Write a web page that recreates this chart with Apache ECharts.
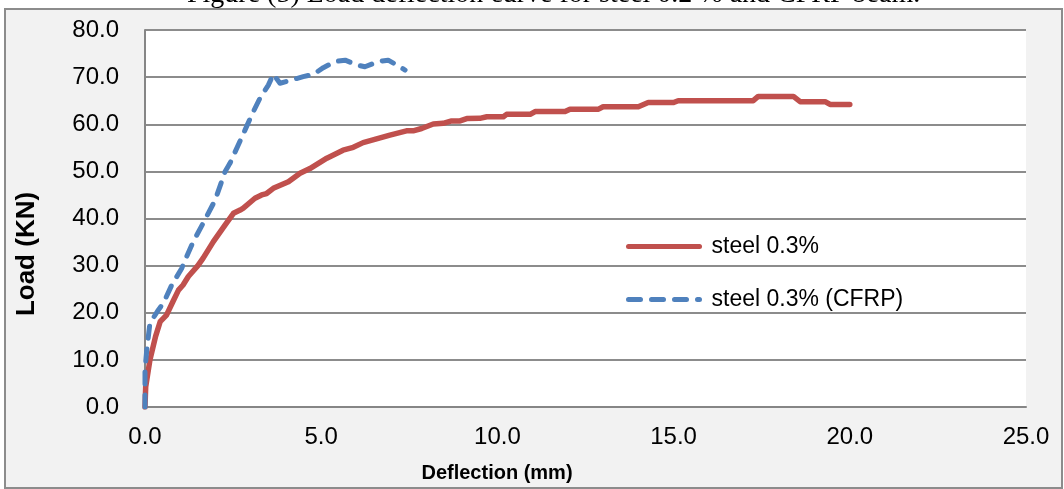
<!DOCTYPE html>
<html>
<head>
<meta charset="utf-8">
<script src="https://cdn.jsdelivr.net/npm/echarts@6/dist/echarts.min.js"></script>
<style>
  html, body { margin: 0; padding: 0; background: #ffffff; }
  #frame { position: absolute; left: 4px; top: 8px; width: 1055px; height: 477px;
           background: #f2f2f2; border: 2px solid #8c8c8c; }
  #chart { position: absolute; left: 0; top: 0; width: 1064px; height: 489px; }
</style>
</head>
<body>
<div id="frame"></div>
<div id="chart"></div>
<script>
// ---- data ----
const titleText = 'Figure (5) Load deflection curve for steel 0.2 % and CFRP beam.';
const seriesNames = ['steel 0.3%', 'steel 0.3% (CFRP)'];
const xTicks = [0, 5, 10, 15, 20, 25];
const yTicks = [0, 10, 20, 30, 40, 50, 60, 70, 80];

const steelDeflection = [0, 0.02, 0.14, 0.3, 0.43, 0.61, 0.8, 0.95, 1.08, 1.23, 1.5, 1.65, 1.94, 2.27, 2.51, 2.7, 2.79, 3.12, 3.31, 3.45, 3.64, 4.07, 4.4, 4.68, 5.16, 5.62, 5.91, 6.19, 6.57, 6.95, 7.42, 7.61, 7.85, 8.18, 8.46, 8.7, 8.94, 9.13, 9.5, 9.7, 10.17, 10.26, 10.93, 11.07, 11.92, 12.06, 12.87, 13.0, 14.0, 14.28, 15.0, 15.13, 17.26, 17.4, 18.4, 18.59, 19.3, 19.44, 20.0];
const steelLoad = [0, 4.3, 10, 15, 18.1, 19.5, 22.5, 24.8, 25.9, 27.7, 30, 31.6, 35.1, 38.6, 41.1, 41.8, 42.2, 44.3, 45.0, 45.3, 46.4, 47.8, 49.6, 50.6, 52.8, 54.5, 55.1, 56.1, 56.9, 57.7, 58.6, 58.6, 59.1, 60.05, 60.2, 60.7, 60.7, 61.2, 61.25, 61.6, 61.6, 62.1, 62.1, 62.7, 62.7, 63.2, 63.2, 63.7, 63.7, 64.6, 64.6, 65.0, 65.0, 65.9, 65.9, 64.8, 64.8, 64.2, 64.2];

const cfrpDeflection = [0, 0.0, 0.05, 0.14, 0.38, 0.52, 0.76, 0.85, 1.04, 1.14, 1.37, 1.65, 1.99, 2.27, 2.41, 2.84, 3.03, 3.26, 3.5, 3.64, 3.83, 4.16, 4.49, 4.78, 5.06, 5.39, 5.68, 6.0, 6.24, 6.62, 6.9, 7.14, 7.38];
const cfrpLoad = [0, 7.85, 12.1, 17.8, 20.6, 22.0, 25.9, 27.0, 29.4, 31.2, 35.1, 39.0, 43.9, 49.9, 51.7, 58.8, 62.0, 65.5, 68.3, 70.6, 68.7, 69.4, 70.1, 70.6, 72.0, 73.3, 73.6, 72.6, 72.2, 73.3, 73.6, 72.6, 71.5];

const zip = (xs, ys) => xs.map((x, i) => [x, ys[i]]);

const chart = echarts.init(document.getElementById('chart'), null, { renderer: 'canvas' });
const FONT = 'Liberation Sans, Arial, sans-serif';
const axisFont = { fontFamily: FONT, fontSize: 24, color: '#000' };

chart.setOption({
  backgroundColor: 'transparent',
  animation: false,
  graphic: [{
    type: 'text', left: 187, top: -19,
    style: { text: titleText, font: '28px "Liberation Serif", "Times New Roman", serif', fill: '#000' }
  }],
  grid: { left: 145, right: 38, top: 30, bottom: 82, show: true, backgroundColor: '#ffffff', borderWidth: 0 },
  legend: {
    orient: 'vertical', left: 621, top: 230,
    itemWidth: 71, itemHeight: 24, itemGap: 30,
    data: seriesNames,
    itemStyle: { opacity: 0 },
    lineStyle: { width: 5, cap: 'round' },
    textStyle: { fontFamily: FONT, fontSize: 23, color: '#000', padding: [0, 0, 0, 7] }
  },
  xAxis: {
    type: 'value', min: xTicks[0], max: xTicks[xTicks.length - 1], interval: 5,
    name: 'Deflection (mm)', nameLocation: 'middle', nameGap: 56,
    nameTextStyle: { fontFamily: FONT, fontSize: 20, fontWeight: 'bold', color: '#000', padding: [0, 177, 0, 0] },
    axisLine: { show: true, lineStyle: { color: '#868686', width: 2 } },
    axisTick: { show: false },
    axisLabel: Object.assign({ margin: 18, formatter: v => v.toFixed(1) }, axisFont),
    splitLine: { show: false }
  },
  yAxis: {
    type: 'value', min: yTicks[0], max: yTicks[yTicks.length - 1], interval: 10,
    name: 'Load (KN)', nameLocation: 'middle', nameGap: 105,
    nameTextStyle: { fontFamily: FONT, fontSize: 26, fontWeight: 'bold', color: '#000', padding: [0, 71, 0, 0] },
    axisLine: { show: true, lineStyle: { color: '#868686', width: 2 } },
    axisTick: { show: false },
    axisLabel: Object.assign({ margin: 26, formatter: v => v.toFixed(1) }, axisFont),
    splitLine: { show: true, lineStyle: { color: '#8c8c8c', width: 2 } }
  },
  series: [
    {
      name: seriesNames[0], type: 'line', data: zip(steelDeflection, steelLoad),
      symbol: 'none', smooth: false,
      lineStyle: { color: '#C0504D', width: 5.5, cap: 'round', join: 'round' },
      itemStyle: { color: '#C0504D' }
    },
    {
      name: seriesNames[1], type: 'line', data: zip(cfrpDeflection, cfrpLoad),
      symbol: 'none', smooth: false,
      lineStyle: { color: '#4F81BD', width: 5, type: [12, 11], cap: 'round', join: 'round' },
      itemStyle: { color: '#4F81BD' }
    }
  ]
});
</script>
</body>
</html>
